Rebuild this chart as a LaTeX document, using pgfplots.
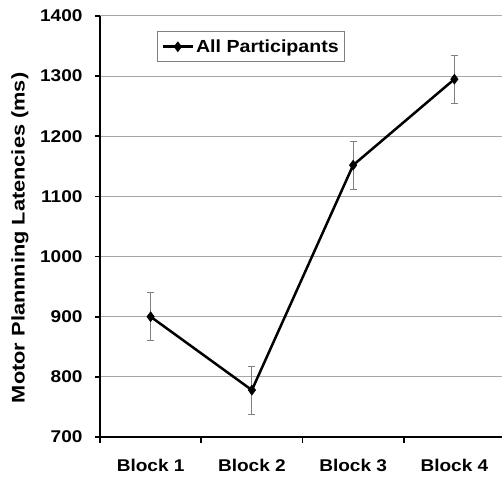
\documentclass[border=0pt]{standalone}
\usepackage{fontspec}
\setmainfont{Liberation Sans}
\newfontfamily\tickfont{Liberation Sans}[FakeStretch=1.12]
\newfontfamily\labfont{Liberation Sans}[FakeStretch=1.19]
\usepackage{pgfplots}
\pgfplotsset{compat=1.18}
\begin{document}
\begin{tikzpicture}
\begin{axis}[
  scale only axis, width=402pt, height=421pt,
  xmin=-0.5, xmax=3.47, ymin=700, ymax=1400,
  clip=false,
  axis x line*=bottom, axis y line*=left,
  axis line style={line width=2.8pt, black, -},
  xtick={0,1,2,3}, xticklabels={Block 1,Block 2,Block 3,Block 4},
  major x tick style={draw=none},
  minor xtick={-0.5,0.5,1.5,2.5},
  minor tick length=6pt,
  ytick={700,800,...,1400},
  major tick length=5pt,
  tick style={black, line width=1.6pt},
  tick align=outside,
  /pgf/number format/assume math mode=true,
  /pgf/number format/1000 sep={},
  ymajorgrids, major grid style={gray!70, line width=1pt},
  yticklabel style={font=\tickfont\bfseries\fontsize{17}{19}\selectfont, xshift=-9pt},
  xticklabel style={font=\tickfont\bfseries\fontsize{17}{19}\selectfont, yshift=-14pt},
  ylabel={Motor Plannning Latencies (ms)},
  every axis y label/.append style={at={(axis description cs:-0.199,0.473)}, anchor=center},
  ylabel style={font=\labfont\bfseries\fontsize{18.3}{20}\selectfont},
  legend style={at={(rel axis cs:0.142,0.964)}, anchor=north west, draw=gray, line width=1pt,
    font=\tickfont\bfseries\fontsize{17.5}{19}\selectfont, inner xsep=4pt, inner ysep=6pt},
  legend image code/.code={\draw[mark repeat=2,mark phase=2,#1] plot coordinates {(0pt,0pt) (15pt,0pt) (30pt,0pt)};},
]
\addplot[black, line width=2.5pt, mark=diamond*, mark size=5pt, mark options={solid, fill=black, line width=0.5pt},
  error bars/.cd, y dir=both, y explicit,
  error bar style={gray, line width=0.9pt},
  error mark options={rotate=90, mark size=3.5pt, gray, line width=0.9pt}]
  coordinates {(0,900) +- (0,40) (1,778) +- (0,40) (2,1152) +- (0,40) (3,1295) +- (0,40)};
\addlegendentry{All Participants}
\draw[black, line width=2.8pt] (rel axis cs:0,1) -- (rel axis cs:0,0) -- (rel axis cs:1,0);
\coordinate (bl) at (rel axis cs:0,0);
\coordinate (tr) at (rel axis cs:1,1);
\end{axis}
\pgfresetboundingbox
\path ([shift={(-100pt,-41pt)}]bl) rectangle ([yshift=16pt]tr);
\end{tikzpicture}
\end{document}
